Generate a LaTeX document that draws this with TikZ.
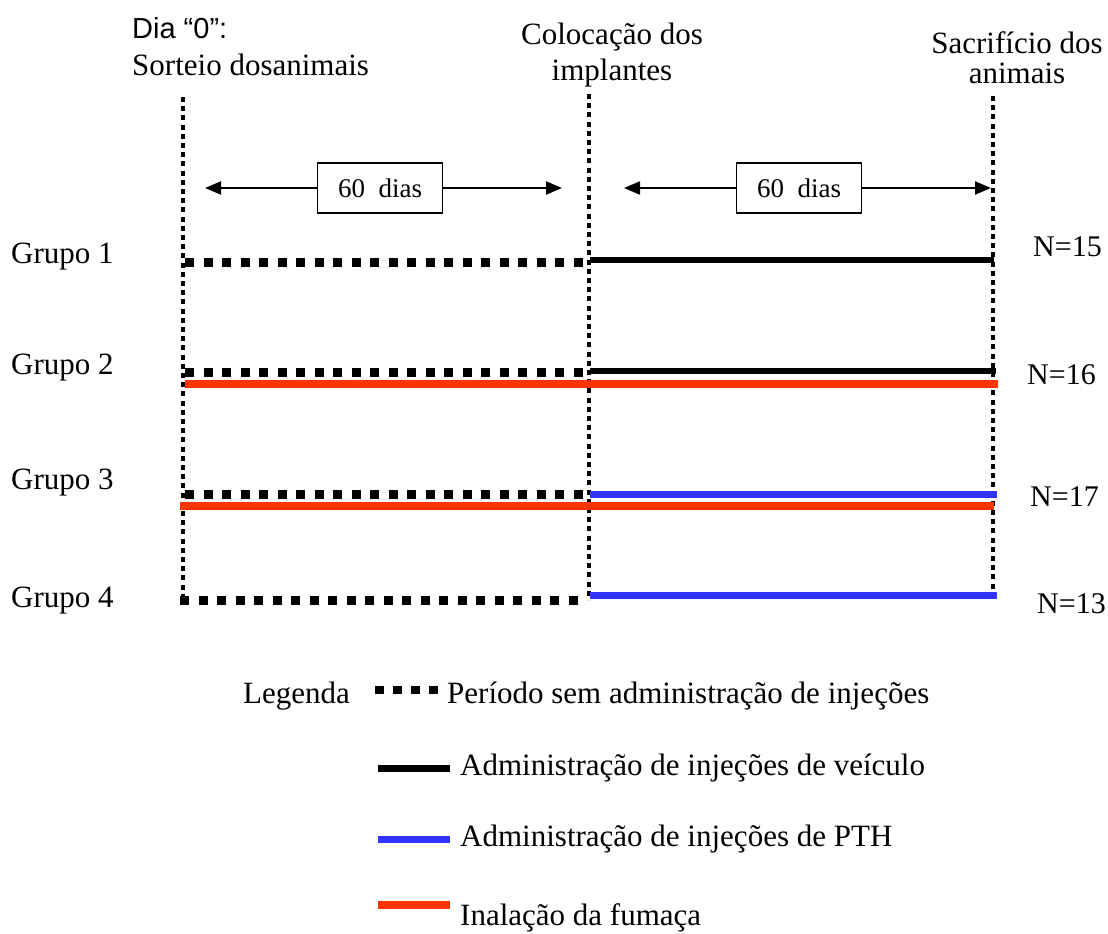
\documentclass[tikz,border=0pt]{standalone}
\usepackage{fontspec}
\setmainfont{Liberation Serif}
\newfontfamily\arialf{Liberation Sans}
\usetikzlibrary{arrows.meta}
\definecolor{smoke}{RGB}{255,51,0}
\definecolor{pthc}{RGB}{51,51,255}
\begin{document}
\begin{tikzpicture}[x=1pt,y=-1pt,
  vdot/.style={line width=4.5pt, dash pattern=on 5pt off 4.2pt},
  hdot/.style={line width=9pt, dash pattern=on 9pt off 9.5pt},
  vehline/.style={line width=6pt, black},
  pthline/.style={line width=7pt, pthc},
  smokeline/.style={line width=8pt, smoke},
  txt/.style={font=\fontsize{31}{36}\selectfont, inner sep=0pt},
  small/.style={font=\fontsize{30}{34}\selectfont, inner sep=0pt},
  sans/.style={font=\arialf\fontsize{29}{34}\selectfont, inner sep=0pt},
  daybox/.style={draw, line width=1.5pt, minimum width=125pt, minimum height=50pt, font=\fontsize{27}{32}\selectfont},
  span/.style={line width=2pt, -{Triangle[length=16pt,width=13pt]}}
]
\useasboundingbox (0,0) rectangle (1108,934);

% header texts
\node[sans, anchor=base west] (dia) at (132,39) {Dia “0”:};
\node[txt, anchor=base west] (sort) at (132,76) {Sorteio dosanimais};
\node[txt, anchor=base] (col1) at (612,45) {Colocação dos};
\node[txt, anchor=base] (col2) at (612,81) {implantes};
\node[txt, anchor=base] (sac1) at (1017,54) {Sacrifício dos};
\node[txt, anchor=base] (sac2) at (1017,83) {animais};

% vertical dotted lines
\coordinate (L0) at (183,97); \coordinate (L1) at (183,600);
\coordinate (M0) at (589,94); \coordinate (M1) at (589,600);
\coordinate (R0) at (993,96); \coordinate (R1) at (993,600);
\draw[vdot] (L0) -- (L1);
\draw[vdot] (M0) -- (M1);
\draw[vdot] (R0) -- (R1);

% 60 dias boxes and arrows
\node[daybox] (b1) at (380,188) {60\ \ dias};
\node[daybox] (b2) at (799,188) {60\ \ dias};
\coordinate (a1l) at (205,188); \coordinate (a1r) at (562,188);
\coordinate (a2l) at (624,188); \coordinate (a2r) at (991,188);
\draw[span] (b1.west) -- (a1l);
\draw[span] (b1.east) -- (a1r);
\draw[span] (b2.west) -- (a2l);
\draw[span] (b2.east) -- (a2r);

% group labels
\node[txt, anchor=base west] (g1) at (11,263) {Grupo 1};
\node[txt, anchor=base west] (g2) at (11,374) {Grupo 2};
\node[txt, anchor=base west] (g3) at (11,489) {Grupo 3};
\node[txt, anchor=base west] (g4) at (11,607) {Grupo 4};

% N labels
\node[small, anchor=base west] (n1) at (1033,256) {N=15};
\node[small, anchor=base west] (n2) at (1027,384) {N=16};
\node[small, anchor=base west] (n3) at (1030,506) {N=17};
\node[small, anchor=base west] (n4) at (1037,613) {N=13};

% Grupo 1
\draw[hdot] (185,262) -- (586,262);
\draw[vehline] (590,260) -- (994,260);
% Grupo 2
\draw[hdot] (185,372) -- (586,372);
\draw[vehline] (590,371) -- (996,371);
\draw[smokeline] (185,384) -- (998,384);
% Grupo 3
\draw[hdot] (185,494) -- (586,494);
\draw[pthline] (590,494) -- (997,494);
\draw[smokeline] (180,506) -- (994,506);
% Grupo 4
\draw[hdot] (180,600) -- (586,600);
\draw[pthline] (590,595) -- (997,595);

% legend
\node[txt, anchor=base west] (leg) at (243,703) {Legenda};
\draw[line width=8pt, dash pattern=on 9pt off 9pt] (375,690) -- (446,690);
\node[txt, anchor=base west] (l1) at (447,703) {Período sem administração de injeções};
\draw[vehline, line width=7pt] (378,768) -- (450,768);
\node[txt, anchor=base west] (l2) at (460,775) {Administração de injeções de veículo};
\draw[pthline] (378,839) -- (450,839);
\node[txt, anchor=base west] (l3) at (460,846) {Administração de injeções de PTH};
\draw[smokeline] (378,905) -- (450,905);
\node[txt, anchor=base west] (l4) at (460,925) {Inalação da fumaça};
\end{tikzpicture}
\end{document}
